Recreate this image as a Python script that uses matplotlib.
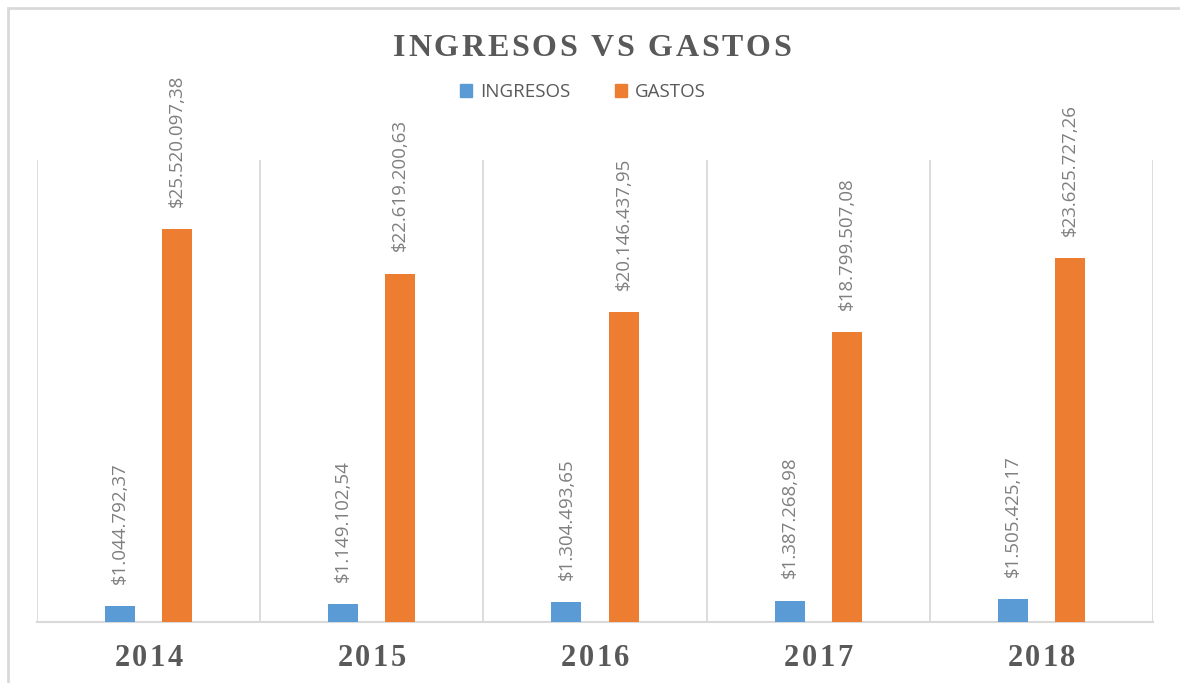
import matplotlib
matplotlib.use("Agg")
import matplotlib.pyplot as plt
import numpy as np
from matplotlib.patches import Rectangle, Patch

years = ["2014", "2015", "2016", "2017", "2018"]
ingresos = [1044792.37, 1149102.54, 1304493.65, 1387268.98, 1505425.17]
gastos = [25520097.38, 22619200.63, 20146437.95, 18799507.08, 23625727.26]
ingresos_lbl = ["$1.044.792,37", "$1.149.102,54", "$1.304.493,65", "$1.387.268,98", "$1.505.425,17"]
gastos_lbl = ["$25.520.097,38", "$22.619.200,63", "$20.146.437,95", "$18.799.507,08", "$23.625.727,26"]
title = "INGRESOS VS GASTOS"

BLUE = "#5B9BD5"
ORANGE = "#ED7D31"
GRID = "#D9D9D9"
TXT = "#595959"
LBL = "#7F7F7F"

fig = plt.figure(figsize=(11.8, 6.83), dpi=100)
renderer = fig.canvas.get_renderer()
ax = fig.add_axes([37/1180, 1-622/683, (1153-37)/1180, (622-160)/683])


def char_width(c, **kw):
    t1 = fig.text(0, 0, "|" + c + "|", **kw)
    t2 = fig.text(0, 0, "||", **kw)
    w = t1.get_window_extent(renderer).width - t2.get_window_extent(renderer).width
    t1.remove()
    t2.remove()
    return w


def spaced_text(xc, yc, s, spacing, **kw):
    """Draw text centered at pixel (xc, yc) with extra letter spacing (px)."""
    widths = [char_width(c, **kw) for c in s]
    total = sum(widths) + spacing * (len(s) - 1)
    x0 = xc - total / 2
    W, H = fig.bbox.width, fig.bbox.height
    for c, w in zip(s, widths):
        if c != " ":
            fig.text(x0 / W, yc / H, c, ha="left", va="center", **kw)
        x0 += w + spacing


x = np.arange(len(years))
w = 0.135
off = 0.128
b1 = ax.bar(x - off, ingresos, w, color=BLUE, zorder=3)
b2 = ax.bar(x + off, gastos, w, color=ORANGE, zorder=3)

for bars, labels in ((b1, ingresos_lbl), (b2, gastos_lbl)):
    for r, t in zip(bars, labels):
        ax.annotate(t, (r.get_x() + r.get_width()/2, r.get_height()),
                    xytext=(0, 16), textcoords="offset points",
                    rotation=90, ha="center", va="bottom",
                    fontsize=13.5, color=LBL, family="Open Sans")

ax.set_xlim(-0.5, len(years) - 0.5)
ax.set_ylim(0, 30000000)
ax.set_yticks([])
ax.set_xticks([])
for b in np.arange(-0.5, len(years), 1.0):
    ax.axvline(b, color=GRID, lw=1.3, zorder=1)
for s in ["top", "left", "right"]:
    ax.spines[s].set_visible(False)
ax.spines["bottom"].set_color(GRID)
ax.spines["bottom"].set_linewidth(1.5)

# category labels with letter spacing
H = fig.bbox.height
for xi, yr in zip(x, years):
    px = ax.transData.transform((xi, 0))[0]
    spaced_text(px, H - 658, yr, 2.4, family="Liberation Serif",
                fontweight="bold", fontsize=22, color=TXT)

spaced_text(592, H - 48, title, 2.7, family="Liberation Serif",
            fontweight="bold", fontsize=23, color=TXT)

handles = [Patch(color=BLUE, label="INGRESOS"), Patch(color=ORANGE, label="GASTOS")]
leg = fig.legend(handles=handles, loc="center", bbox_to_anchor=(0.494, 0.865), ncol=2,
                 frameon=False, prop={"family": "Open Sans", "size": 13.5},
                 handlelength=0.65, handleheight=0.65, columnspacing=2.4, handletextpad=0.4)
for t in leg.get_texts():
    t.set_color(TXT)

fig.patches.append(Rectangle((7.5/1180, -0.1), 1.2, 1 - 8.5/683 + 0.1,
                             transform=fig.transFigure, fill=False,
                             edgecolor=GRID, lw=2, zorder=0))

fig.savefig("out.png", dpi=100)
